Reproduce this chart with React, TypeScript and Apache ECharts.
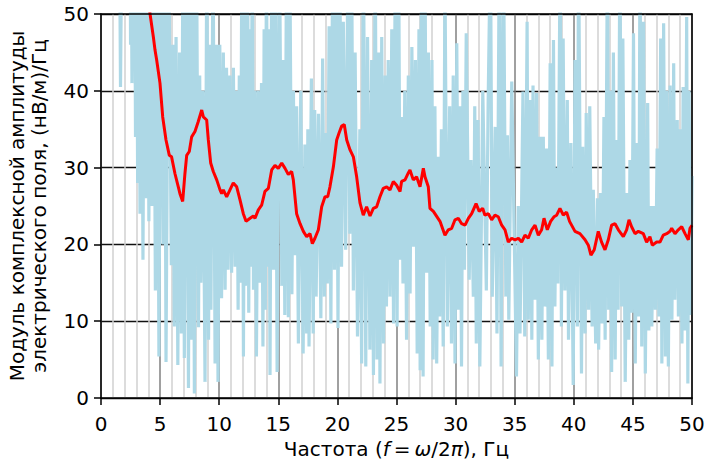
import React, { useEffect, useRef } from "react";
import * as echarts from "echarts";

const xTicks = [0, 5, 10, 15, 20, 25, 30, 35, 40, 45, 50];
const yTicks = [0, 10, 20, 30, 40, 50];

const yTitleLine1 = "Модуль комплексной амплитуды";
const yTitleLine2 = "электрического поля, (нВ/м)/Гц";

// light-blue raw spectrum (frequency, amplitude); values above 50 are clipped by the axes
const blueFreq = [
  1.55, 1.65, 1.78, 2.45, 2.5, 2.55, 2.62, 2.7, 2.77, 2.84, 2.92, 3.0, 3.1, 3.2, 3.3, 3.42, 3.55, 3.7, 3.85, 3.95,
  4.05, 4.18, 4.3, 4.45, 4.6, 4.75, 4.9, 5.08, 5.25, 5.38, 5.5, 5.72, 5.95, 6.08, 6.2, 6.35, 6.5, 6.65, 6.8, 6.93,
  7.05, 7.22, 7.4, 7.52, 7.65, 7.78, 7.9, 8.08, 8.25, 8.35, 8.45, 8.62, 8.8, 8.95, 9.1, 9.2, 9.3, 9.48, 9.65, 9.78,
  9.9, 10.05, 10.2, 10.35, 10.5, 10.62, 10.75, 10.9, 11.05, 11.2, 11.35, 11.48, 11.6, 11.7, 11.8, 11.92, 12.05, 12.18, 12.3, 12.4,
  12.5, 12.6, 12.68, 12.8, 12.9, 13.02, 13.15, 13.3, 13.45, 13.58, 13.7, 13.8, 13.9, 14.0, 14.1, 14.2, 14.3, 14.45, 14.6, 14.75,
  14.9, 15.1, 15.3, 15.42, 15.55, 15.7, 15.85, 16.0, 16.15, 16.28, 16.4, 16.55, 16.7, 16.9, 17.1, 17.25, 17.4, 17.5, 17.6, 17.8,
  17.95, 18.08, 18.2, 18.4, 18.6, 18.75, 18.9, 19.02, 19.15, 19.3, 19.45, 19.6, 19.75, 19.9, 20.05, 20.2, 20.35, 20.5, 20.7, 20.9,
  21.05, 21.2, 21.35, 21.5, 21.7, 21.9, 22.05, 22.2, 22.4, 22.55, 22.75, 22.9, 23.05, 23.2, 23.35, 23.48, 23.6, 23.75, 23.9, 24.05,
  24.15, 24.3, 24.45, 24.6, 24.75, 24.9, 25.05, 25.18, 25.3, 25.42, 25.55, 25.7, 25.85, 26.0, 26.15, 26.3, 26.45, 26.6, 26.75, 26.9,
  27.0, 27.12, 27.25, 27.4, 27.55, 27.7, 27.85, 28.0, 28.1, 28.25, 28.4, 28.55, 28.65, 28.8, 28.95, 29.1, 29.3, 29.5, 29.65, 29.8,
  29.95, 30.1, 30.25, 30.38, 30.5, 30.62, 30.75, 30.9, 31.15, 31.3, 31.5, 31.62, 31.75, 31.9, 32.05, 32.3, 32.6, 32.75, 32.95, 33.1,
  33.35, 33.5, 33.7, 33.85, 34.05, 34.25, 34.38, 34.5, 34.75, 35.15, 35.3, 35.45, 35.7, 35.85, 36.05, 36.15, 36.3, 36.45, 36.55, 36.7,
  36.85, 37.0, 37.15, 37.3, 37.42, 37.55, 37.7, 37.85, 38.0, 38.15, 38.28, 38.4, 38.52, 38.65, 38.85, 38.95, 39.1, 39.25, 39.45, 39.55,
  39.75, 39.95, 40.1, 40.3, 40.4, 40.65, 40.75, 40.95, 41.05, 41.25, 41.35, 41.55, 41.65, 41.85, 42.0, 42.1, 42.25, 42.4, 42.55, 42.65,
  42.85, 42.95, 43.1, 43.2, 43.35, 43.5, 43.62, 43.75, 43.9, 44.05, 44.15, 44.35, 44.5, 44.65, 44.75, 44.9, 45.05, 45.2, 45.35, 45.5,
  45.6, 45.75, 45.9, 46.05, 46.25, 46.35, 46.5, 46.6, 46.75, 46.9, 47.05, 47.2, 47.35, 47.45, 47.6, 47.75, 47.85, 48.0, 48.15, 48.3,
  48.45, 48.55, 48.75, 48.85, 49.0, 49.15, 49.25, 49.4, 49.55, 49.65, 49.75, 49.9, 50.0,
];
const blueAmp = [
  65, 40.5, 65, 65, 46, 65, 41, 65, 43, 65, 34, 65, 28, 65, 24, 65, 18, 65, 26, 65,
  23, 65, 25, 65, 14, 65, 5.4, 65, 20, 60, 4.7, 62, 17.3, 46, 9.3, 47, 4.3, 45, 8.4, 60,
  5.2, 60, 1.3, 60, 7.6, 60, 0.6, 60, 9.2, 42, 15, 40, 2.1, 60, 7.6, 46, 11.5, 60, 4.5, 46,
  2.1, 46, 13, 45, 14.1, 43, 16.7, 42, 16.3, 43, 17.1, 40, 11.5, 42, 15, 60, 5.4, 55, 14.6, 60,
  11.1, 48, 17.1, 60, 14.1, 40, 5.4, 40, 15, 41, 6.7, 48, 11.5, 60, 17.1, 48, 3.0, 60, 16.7, 60,
  3.4, 60, 14.6, 44, 10.8, 60, 10.5, 52, 13.5, 40, 18.6, 38, 7.1, 40, 5.8, 33, 8.4, 35, 6.7, 41.6,
  8.4, 37.5, 13.2, 37, 10.4, 44.2, 13.2, 34.5, 14.9, 48.4, 9.7, 60, 16.7, 60, 9.1, 60, 17.1, 49, 19.3, 60,
  21.4, 60, 14, 45, 8, 35, 4.5, 60, 4.1, 47, 6.3, 44, 3.0, 60, 5.0, 45, 1.9, 47, 7.1, 42,
  11.9, 44, 13.2, 48, 9.7, 60, 9.3, 60, 18, 36.6, 14.9, 40, 7.6, 42, 13.6, 45.7, 19.7, 44, 5.8, 48,
  3.6, 60, 2.8, 60, 16.3, 45, 9.3, 44, 5.0, 38, 4.5, 31.4, 10.6, 35, 6.7, 55, 9.3, 38, 7.1, 42,
  4.5, 46.2, 11.5, 38, 4.1, 40, 16.7, 47.5, 15.4, 31, 13.2, 38, 7.1, 36.2, 4.1, 40, 14, 38, 60, 13.2,
  35.3, 8.4, 60, 4.1, 60, 13.2, 34.2, 10.2, 41.2, 2.8, 25, 8.4, 39.9, 8.0, 49, 10.2, 38.8, 7.6, 40.7, 12.8,
  39.7, 5.0, 34, 7.6, 34, 11.9, 32.5, 5.0, 43.6, 4.1, 46.6, 11.9, 30, 14.9, 60, 9.3, 46.8, 14, 38.8, 7.6,
  33.2, 1.7, 44, 9.3, 60, 3.2, 32.7, 8.4, 37.1, 11.5, 38, 9.3, 27.1, 7.1, 26, 6.3, 26.7, 9.7, 36.6, 7.6,
  60, 11.5, 40, 3.4, 45, 5.0, 33.6, 11.5, 60, 11.9, 46.8, 2.1, 26.7, 7.6, 31, 11.1, 47.5, 4.5, 33.2, 10.6,
  60, 6.7, 49, 3.2, 38.4, 8.8, 25, 9.3, 25, 11.5, 32.5, 10.6, 46.8, 4.5, 48.8, 5.4, 40, 4.1, 40.7, 10.2,
  43.6, 12.8, 36.2, 10.6, 35, 7.1, 40.5, 8.8, 49.6, 1.9, 40, 10.8, 28.9,
];

// red smoothed spectrum
const redFreq = [
  4.05, 4.15, 4.43, 4.57, 4.71, 4.99, 5.22, 5.5, 5.78, 5.97, 6.26, 6.54, 6.68, 6.91, 7.1, 7.25, 7.47, 7.67, 7.95, 8.23,
  8.52, 8.66, 8.94, 9.08, 9.28, 9.5, 9.79, 10.07, 10.21, 10.35, 10.63, 10.91, 11.19, 11.48, 11.76, 12.04, 12.27, 12.61, 12.89, 13.03,
  13.31, 13.59, 13.87, 14.16, 14.44, 14.72, 15.0, 15.29, 15.57, 15.85, 16.13, 16.27, 16.55, 16.84, 17.12, 17.4, 17.68, 17.88, 18.1, 18.39,
  18.67, 18.95, 19.18, 19.37, 19.66, 19.94, 20.14, 20.36, 20.58, 20.79, 21.07, 21.35, 21.63, 21.91, 22.19, 22.47, 22.76, 23.04, 23.32, 23.6,
  23.88, 24.17, 24.45, 24.73, 25.01, 25.3, 25.43, 25.72, 26.0, 26.14, 26.42, 26.7, 26.99, 27.27, 27.41, 27.69, 27.83, 28.12, 28.68, 29.1,
  29.38, 29.67, 29.95, 30.23, 30.51, 30.8, 31.08, 31.36, 31.73, 32.0, 32.29, 32.48, 32.77, 33.05, 33.33, 33.61, 33.9, 34.18, 34.46, 34.74,
  35.03, 35.31, 35.59, 35.87, 36.15, 36.44, 36.72, 37.0, 37.28, 37.48, 37.76, 38.04, 38.32, 38.55, 38.83, 39.11, 39.39, 39.64, 40.1, 40.52,
  40.95, 41.23, 41.45, 41.73, 42.07, 42.35, 42.64, 42.92, 43.2, 43.49, 43.77, 44.19, 44.47, 44.67, 44.89, 45.18, 45.46, 45.88, 46.16, 46.44,
  46.64, 47.01, 47.29, 47.57, 47.86, 48.14, 48.28, 48.56, 48.84, 49.13, 49.41, 49.69, 49.83, 50.0,
];
const redAmp = [
  51.5, 50, 47.0, 45.3, 44.0, 41.0, 36.6, 33.6, 31.6, 31.4, 29.2, 27.5, 26.6, 25.6, 29.2, 31.6, 32.1, 34.0, 34.7, 36.0,
  37.5, 36.6, 36.2, 33.6, 30.6, 29.5, 28.4, 27.1, 26.6, 27.1, 26.2, 27.1, 28.0, 27.5, 25.8, 24.0, 23.0, 23.4, 23.7, 23.4,
  24.5, 25.1, 26.9, 27.3, 29.7, 30.3, 29.9, 30.6, 29.9, 29.1, 29.5, 28.4, 24.0, 22.7, 21.7, 21.0, 21.4, 20.1, 20.8, 21.9,
  24.9, 26.2, 26.2, 27.5, 30.1, 33.6, 34.5, 35.4, 35.6, 33.6, 32.3, 31.4, 28.8, 25.4, 23.8, 24.9, 23.7, 24.7, 24.9, 26.2,
  27.3, 27.5, 27.1, 28.2, 27.7, 26.9, 28.2, 28.4, 29.3, 29.7, 28.4, 28.8, 27.5, 29.9, 28.8, 27.5, 24.7, 24.3, 23.0, 21.2,
  21.9, 22.1, 23.2, 23.4, 22.7, 22.5, 23.4, 24.0, 25.3, 24.3, 24.7, 23.8, 24.0, 23.2, 23.8, 23.6, 22.5, 21.9, 20.3, 20.8,
  20.6, 20.8, 20.3, 21.2, 20.8, 21.9, 22.5, 21.2, 21.9, 23.4, 21.9, 23.0, 23.6, 23.8, 24.7, 23.8, 24.2, 23.0, 21.7, 21.4,
  20.6, 19.9, 18.6, 19.3, 21.7, 20.3, 19.3, 20.6, 22.5, 22.7, 21.9, 21.0, 21.9, 23.2, 22.3, 21.4, 21.7, 21.4, 20.3, 21.0,
  19.9, 20.3, 20.3, 21.2, 21.4, 21.7, 22.1, 21.4, 21.9, 22.3, 21.4, 20.6, 22.1, 22.5,
];

const FONT = "DejaVu Sans";

export default function App() {
  const ref = useRef<HTMLDivElement>(null);

  useEffect(() => {
    if (!ref.current) return;
    const chart = echarts.init(ref.current, null, { renderer: "svg", width: 707, height: 461 });
    const blueData = blueFreq.map((f, i) => [f, blueAmp[i]]);
    const redData = redFreq.map((f, i) => [f, redAmp[i]]);
    const frameAxisCommon = {
      type: "value" as const,
      min: 0,
      max: 50,
      z: 5,
      axisLine: { show: true, onZero: false, lineStyle: { color: "#000", width: 1.5 } },
      axisTick: { show: false },
      axisLabel: { show: false },
      splitLine: { show: false },
    };
    chart.setOption({
      animation: false,
      backgroundColor: "#fff",
      grid: { left: 101, right: 15, top: 14, bottom: 63, containLabel: false, outerBoundsMode: "none" },
      xAxis: [
        {
          type: "value",
          min: xTicks[0],
          max: xTicks[xTicks.length - 1],
          interval: 5,
          position: "bottom",
          axisLine: { show: true, onZero: false, lineStyle: { color: "#000", width: 1.5 } },
          axisTick: { show: true, inside: false, length: 7, lineStyle: { color: "#000", width: 1.5 } },
          axisLabel: { color: "#000", fontSize: 20, fontFamily: FONT, margin: 16 },
          splitLine: { show: true, lineStyle: { color: "#808080", width: 1.5 } },
          minorTick: { show: false, splitNumber: 5 },
          minorSplitLine: { show: true, lineStyle: { color: "#d0d0d0", width: 1.5 } },
          name: "Частота ({i|f}\u2009=\u2009{i|ω}/2{i|π}), Гц",
          nameLocation: "middle",
          nameGap: 41,
          nameMoveOverlap: false,
          nameTextStyle: {
            color: "#000",
            fontSize: 20,
            lineHeight: 20,
            fontFamily: FONT,
            rich: { i: { fontStyle: "italic", fontSize: 20, lineHeight: 20, fontFamily: FONT, color: "#000" } },
          },
        },
        { ...frameAxisCommon, position: "top" },
      ],
      yAxis: [
        {
          type: "value",
          min: yTicks[0],
          max: yTicks[yTicks.length - 1],
          interval: 10,
          position: "left",
          axisLine: { show: true, onZero: false, lineStyle: { color: "#000", width: 1.5 } },
          axisTick: { show: true, inside: false, length: 7, lineStyle: { color: "#000", width: 1.5 } },
          axisLabel: { color: "#000", fontSize: 20, fontFamily: FONT, margin: 12 },
          splitLine: { show: true, lineStyle: { color: "#111", width: 1.3 } },
        },
        { ...frameAxisCommon, position: "right" },
      ],
      graphic: [
        {
          type: "text",
          x: 17,
          y: 206,
          rotation: Math.PI / 2,
          style: {
            text: yTitleLine1,
            fill: "#000",
            font: `20px "${FONT}"`,
            align: "center",
            verticalAlign: "middle",
            textAlign: "center",
            textVerticalAlign: "middle",
          },
        },
        {
          type: "text",
          x: 39,
          y: 206,
          rotation: Math.PI / 2,
          style: {
            text: yTitleLine2,
            fill: "#000",
            font: `20px "${FONT}"`,
            align: "center",
            verticalAlign: "middle",
            textAlign: "center",
            textVerticalAlign: "middle",
          },
        },
      ],
      series: [
        {
          type: "line",
          xAxisIndex: 0,
          yAxisIndex: 0,
          data: blueData,
          showSymbol: false,
          symbol: "none",
          clip: true,
          lineStyle: { color: "#add8e6", width: 3.2, join: "miter" },
          z: 2,
        },
        {
          type: "line",
          xAxisIndex: 0,
          yAxisIndex: 0,
          data: redData,
          showSymbol: false,
          symbol: "none",
          clip: true,
          lineStyle: { color: "#ff0000", width: 3 },
          z: 3,
        },
      ],
    });
    return () => chart.dispose();
  }, []);

  return (
    <div
      ref={ref}
      style={{ position: "fixed", left: 0, top: 0, width: 707, height: 461, background: "#fff" }}
    />
  );
}
